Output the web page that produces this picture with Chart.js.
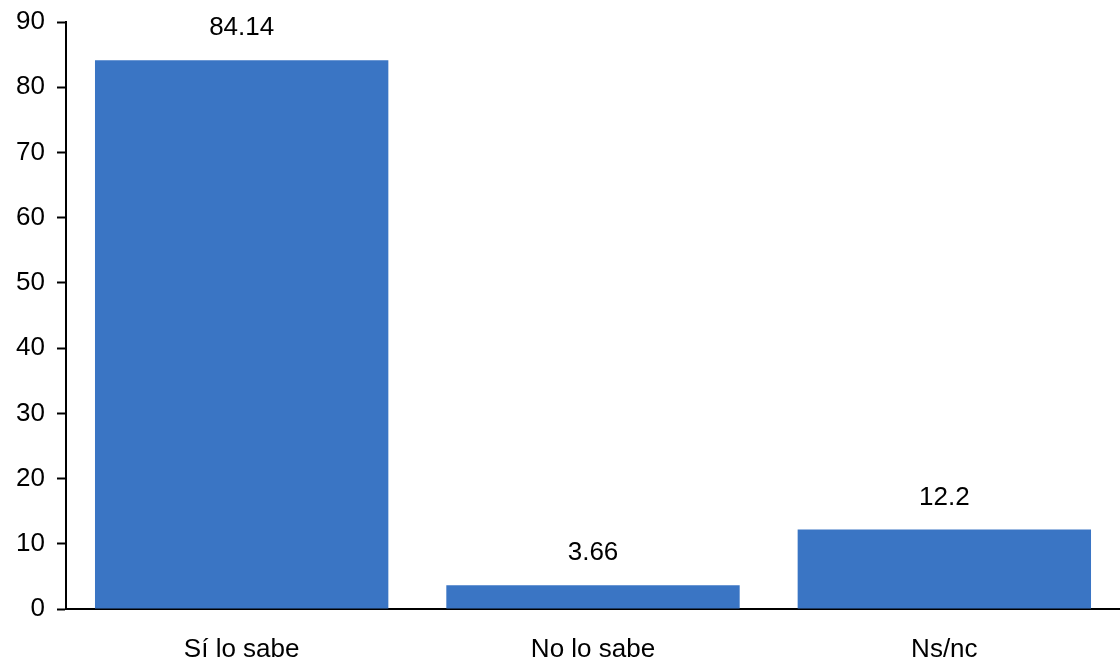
<!DOCTYPE html>
<html>
<head>
<meta charset="utf-8">
<script src="https://cdn.jsdelivr.net/npm/chart.js@4"></script>
<style>
  html, body { margin: 0; padding: 0; background: #fff; }
  #wrap { width: 1120px; height: 661px; }
</style>
</head>
<body>
<div id="wrap"><canvas id="chart" width="1120" height="661"></canvas></div>
<script>
// Données
const categories = ['Sí lo sabe', 'No lo sabe', 'Ns/nc'];
const values     = [84.14, 3.66, 12.2];
const yTicks     = [0, 10, 20, 30, 40, 50, 60, 70, 80, 90];

const FONT = 'Liberation Sans, Arial, sans-serif';

// Étiquettes de valeur au-dessus des barres
const valueLabels = {
  id: 'valueLabels',
  afterDatasetsDraw(chart) {
    const { ctx } = chart;
    const meta = chart.getDatasetMeta(0);
    ctx.save();
    ctx.font = `26px ${FONT}`;
    ctx.fillStyle = '#000';
    ctx.textAlign = 'center';
    ctx.textBaseline = 'middle';
    meta.data.forEach((bar, i) => {
      ctx.fillText(String(values[i]), bar.x, bar.y - 32);
    });
    ctx.restore();
  },
};

new Chart(document.getElementById('chart'), {
  type: 'bar',
  data: {
    labels: categories,
    datasets: [{
      data: values,
      backgroundColor: '#3A75C4',
      borderWidth: 0,
      barPercentage: 0.835,
      categoryPercentage: 1,
    }],
  },
  options: {
    responsive: false,
    animation: false,
    layout: { padding: { top: 22, right: 0, left: 0, bottom: 0 } },
    plugins: {
      legend:  { display: false },
      tooltip: { enabled: false },
    },
    scales: {
      x: {
        grid: { display: false, drawTicks: false },
        border: { color: '#000', width: 2 },
        ticks: { color: '#000', font: { family: FONT, size: 26 }, padding: 25 },
        afterFit: s => { s.height = 52; s.paddingLeft = 0; s.paddingRight = 0; },
      },
      y: {
        min: 0,
        max: 90,
        afterBuildTicks: s => { s.ticks = yTicks.map(v => ({ value: v })); },
        grid: { drawOnChartArea: false, tickLength: 9, color: '#000', tickWidth: 2 },
        border: { color: '#000', width: 2 },
        ticks: { color: '#000', font: { family: FONT, size: 26 }, padding: 12 },
        afterFit: s => { s.width = 66; s.paddingTop = 0; s.paddingBottom = 0; },
      },
    },
  },
  plugins: [valueLabels],
});
</script>
</body>
</html>
